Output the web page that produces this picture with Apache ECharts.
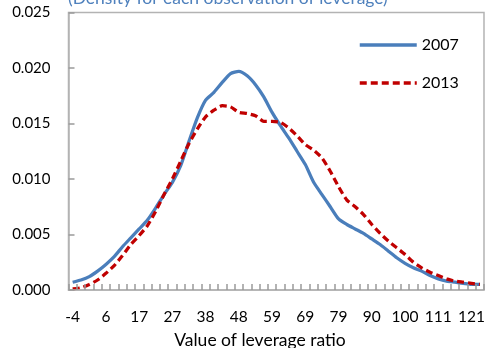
<!DOCTYPE html>
<html>
<head>
<meta charset="utf-8">
<script src="https://cdn.jsdelivr.net/npm/echarts@6/dist/echarts.min.js"></script>
<style>
  html, body { margin: 0; padding: 0; background: #fff; }
  #chart { width: 488px; height: 348px; }
</style>
</head>
<body>
<div id="chart"></div>
<script>
// leverage ratio grid (category axis, every 4th value labelled)
const leverage = [
    -4.0, -1.4, 1.2, 3.8, 6.4, 9.0, 11.6, 14.2, 16.8, 19.4,
    22.0, 24.6, 27.3, 29.9, 32.5, 35.1, 37.7, 40.3, 42.9, 45.5,
    48.1, 50.7, 53.3, 55.9, 58.5, 61.1, 63.7, 66.3, 68.9, 71.5,
    74.1, 76.7, 79.3, 81.9, 84.5, 87.1, 89.8, 92.4, 95.0, 97.6,
    100.2, 102.8, 105.4, 108.0, 110.6, 113.2, 115.8, 118.4, 121.0, 123.6
];

const density2007 = [
    0.0007, 0.0009, 0.0012, 0.0017, 0.0023, 0.0030, 0.0039, 0.0047, 0.0055, 0.0063,
    0.0074, 0.0086, 0.0097, 0.0112, 0.0134, 0.0155, 0.0171, 0.0178, 0.0187, 0.0195,
    0.0197, 0.0193, 0.0185, 0.0174, 0.0160, 0.0148, 0.0137, 0.0125, 0.0113, 0.0097,
    0.0086, 0.0075, 0.0064, 0.0059, 0.0055, 0.0051, 0.0046, 0.0041, 0.0035, 0.0029,
    0.0024, 0.0020, 0.0017, 0.0013, 0.0010, 0.0008, 0.0007, 0.0006, 0.0005, 0.0005
];

const density2013 = [
    0.0001, 0.0002, 0.0005, 0.0009, 0.0015, 0.0022, 0.0031, 0.0041, 0.0049, 0.0058,
    0.0071, 0.0086, 0.0100, 0.0116, 0.0132, 0.0145, 0.0156, 0.0162, 0.0166, 0.0165,
    0.0160, 0.0159, 0.0157, 0.0152, 0.0152, 0.0151, 0.0146, 0.0139, 0.0131, 0.0126,
    0.0119, 0.0107, 0.0093, 0.0081, 0.0075, 0.0068, 0.0059, 0.0051, 0.0044, 0.0038,
    0.0032, 0.0025, 0.0020, 0.0016, 0.0013, 0.0010, 0.0008, 0.0007, 0.0006, 0.0005
];

const yTicks = { min: 0, max: 0.025, step: 0.005 };

const FONT = 'Lato, "Liberation Sans", sans-serif';
const AXIS_GREY = '#b3b3b3';
const TICK_GREY = '#9a9a9a';

const chart = echarts.init(document.getElementById('chart'));

chart.setOption({
    animation: false,
    textStyle: { fontFamily: FONT },
    grid: {
        left: 68.5, right: 2, top: 12.5, bottom: 58,
        show: true, borderColor: AXIS_GREY, borderWidth: 1.5
    },
    legend: {
        orient: 'vertical',
        left: 353, top: 32,
        itemWidth: 57, itemHeight: 14, itemGap: 22,
        itemStyle: { opacity: 0 },
        lineStyle: { width: 3.5 },
        textStyle: { fontFamily: FONT, fontSize: 16, color: '#000' },
        data: ['2007', '2013']
    },
    graphic: [
        {
            type: 'text', left: 68, top: -11,
            style: {
                text: '(Density for each observation of leverage)',
                font: '17.5px ' + FONT, fill: '#4f81bd'
            }
        },
        {
            type: 'text', x: 260, y: 340,
            style: {
                text: 'Value of leverage ratio',
                font: '17.5px ' + FONT, fill: '#000',
                align: 'center', verticalAlign: 'middle'
            }
        }
    ],
    xAxis: {
        type: 'category',
        data: leverage,
        boundaryGap: true,
        z: 5,
        axisLine: { show: true, lineStyle: { color: AXIS_GREY, width: 1.5 } },
        axisTick: { show: true, inside: true, length: 6, interval: 0, lineStyle: { color: TICK_GREY, width: 1.5 } },
        axisLabel: {
            interval: 3, margin: 19, fontSize: 15.5, color: '#000', fontFamily: FONT,
            formatter: v => String(Math.round(Number(v)))
        }
    },
    yAxis: {
        type: 'value',
        min: yTicks.min, max: yTicks.max, interval: yTicks.step,
        z: 5,
        splitLine: { show: false },
        axisLine: { show: true, lineStyle: { color: AXIS_GREY, width: 1.5 } },
        axisTick: { show: true, inside: true, length: 6, lineStyle: { color: TICK_GREY, width: 1.5 } },
        axisLabel: {
            margin: 18, fontSize: 15, color: '#000', fontFamily: FONT,
            formatter: v => v.toFixed(3)
        }
    },
    series: [
        {
            name: '2007', type: 'line', data: density2007,
            symbol: 'none', smooth: 0.2,
            lineStyle: { color: '#4a7ebb', width: 3.25 },
            itemStyle: { color: '#4a7ebb' }
        },
        {
            name: '2013', type: 'line', data: density2013,
            symbol: 'none', smooth: 0.2,
            lineStyle: { color: '#c00000', width: 3.25, type: [7, 4] },
            itemStyle: { color: '#c00000' }
        }
    ]
});
</script>
</body>
</html>
